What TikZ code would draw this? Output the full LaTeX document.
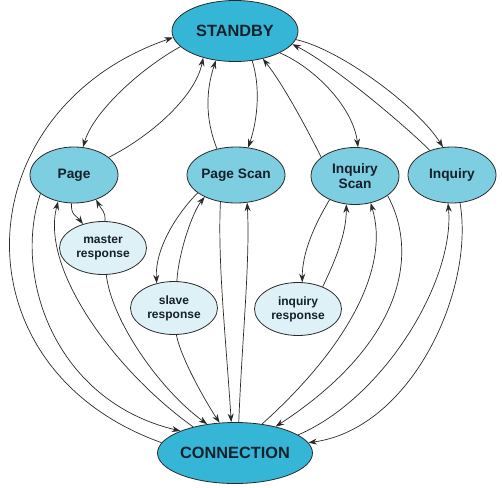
\documentclass[tikz,border=0pt]{standalone}
\usepackage{fontspec}
\setmainfont{Liberation Sans}
\usetikzlibrary{shapes.geometric,arrows.meta}
\definecolor{dark}{HTML}{36B6D7}
\definecolor{mid}{HTML}{7ECEE1}
\definecolor{light}{HTML}{DDF1F7}
\definecolor{ink}{HTML}{14202A}
\definecolor{wire}{HTML}{2A2A2A}
\tikzset{
  st/.style={shape=ellipse, draw=wire, line width=0.8pt, inner sep=0pt, text=ink, font=\bfseries, align=center},
  big/.style={st, fill=dark, minimum width=126pt, minimum height=61pt, font=\bfseries\fontsize{16.3}{19}\selectfont},
  med/.style={st, fill=mid, minimum width=88pt, minimum height=56pt, font=\bfseries\fontsize{13.7}{15}\selectfont},
  sml/.style={st, fill=light, minimum width=87pt, minimum height=53pt, font=\bfseries\fontsize{12}{14}\selectfont},
  edge/.style={draw=wire, line width=0.7pt, -{Stealth[length=8.5pt,width=6pt]}}
}
\begin{document}
\begin{tikzpicture}[x=1pt,y=-1pt]
\useasboundingbox (0,0) rectangle (502,487);
\node[big] (S) at (235,31) {STANDBY};
\node[big] (C) at (235,453) {CONNECTION};
\node[med] (P) at (74,175) {Page};
\node[med] (PS) at (236,175) {Page Scan};
\node[med, minimum height=57pt] (IS) at (355,176) {Inquiry\\Scan};
\node[med] (I) at (452,175) {Inquiry};
\node[sml] (MR) at (103,248) {master\\response};
\node[sml] (SR) at (174,308) {slave\\response};
\node[sml] (IR) at (298,309) {inquiry\\response};

% Standby <-> second row
\draw[edge] (S.196) .. controls +(-40,22) and +(10,-35) .. (P.72);
\draw[edge] (P.27) .. controls +(40,-20) and +(-8,40) .. (S.220);
\draw[edge] (PS.126) .. controls +(-12,-30) and +(-10,30) .. (S.237);
\draw[edge] (S.300) .. controls +(8,25) and +(10,-30) .. (PS.66);
\draw[edge] (IS.151) .. controls +(-15,-30) and +(20,25) .. (S.315);
\draw[edge] (S.334) .. controls +(35,15) and +(-5,-40) .. (IS.84);
\draw[edge] (I.132) .. controls +(-25,-25) and +(40,20) .. (S.347);
\draw[edge] (S.352) .. controls +(45,10) and +(-25,-40) .. (I.108);

% Connection -> Standby (outer arc)
\draw[edge] (C.172) .. controls +(-210,-75) and +(-209,72) .. (S.186);

% Page side
\draw[edge] (P.209) .. controls +(-28,82) and +(-126,-30) .. (C.158);
\draw[edge] (C.148) .. controls +(-76,-54) and +(-18,69) .. (P.239);
\draw[edge] (P.265) .. controls +(-1,12) and +(-6,-8) .. (MR.130);
\draw[edge] (MR.86) .. controls +(1,-10) and +(5,10) .. (P.312);
\draw[edge] (MR.277) .. controls +(5,45) and +(-48,-35) .. (C.134);

% Page Scan side
\draw[edge] (PS.205) .. controls +(-20,20) and +(-2,-35) .. (SR.125);
\draw[edge] (SR.84) .. controls +(2,-30) and +(-12,15) .. (PS.215);
\draw[edge] (SR.275) .. controls +(5,25) and +(-12,-18) .. (C.117);
\draw[edge] (PS.240) .. controls +(-3,60) and +(-5,-80) .. (C.97);
\draw[edge] (C.83) .. controls +(3,-80) and +(3,60) .. (PS.292);

% Inquiry Scan side
\draw[edge] (IS.223) .. controls +(-15,25) and +(0,-30) .. (IR.81);
\draw[edge] (IR.42) .. controls +(12,-25) and +(0,30) .. (IS.253);
\draw[edge] (C.47) .. controls +(89,-80) and +(19,62) .. (IS.300);
\draw[edge] (IS.329) .. controls +(32,59) and +(127,-83) .. (C.33);

% Inquiry side
\draw[edge] (C.16) .. controls +(86,-37) and +(7,77) .. (I.262);
\draw[edge] (I.286) .. controls +(15,87) and +(103,-14) .. (C.8);
\end{tikzpicture}
\end{document}
